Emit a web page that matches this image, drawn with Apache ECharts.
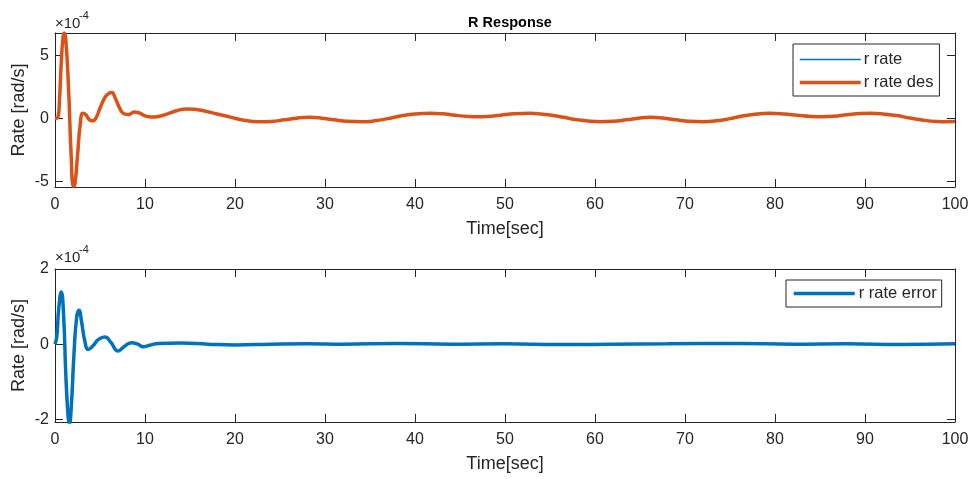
<!DOCTYPE html>
<html>
<head>
<meta charset="utf-8">
<script src="https://cdn.jsdelivr.net/npm/echarts@6/dist/echarts.min.js"></script>
<style>html,body{margin:0;padding:0;background:#fff}#c{width:973px;height:479px}</style>
</head>
<body>
<div id="c"></div>
<script>
// values are in units of 1e-4 rad/s
const timeDes = [0,0.3,0.5,0.7,0.9,1.05,1.2,1.5,1.8,2.05,2.2,2.5,2.8,3.1,3.4,3.8,4.2,4.6,5.0,5.5,6.0,6.3,6.7,7.2,7.7,8.2,8.8,9.3,10.0,10.7,11.5,12.5,13.5,14.6,15.5,16.5,18,19.5,21,22.6,24,25.5,27,28.3,29.5,31,32.5,34.2,35.5,37,38.5,40,41.7,43,44.5,46,46.9,48,49.5,51,52.8,54,55,56.5,58,59.5,60.6,62,63.5,65,66.1,67.5,69,70.5,72,73.5,75,76.5,78,79.4,81,82.5,84,85.3,86.5,88,89.5,90.6,92,93.5,95,96.5,98,99,100];
const rRateDes = [0,0.05,1.5,4.5,6.5,6.8,6.3,2.5,-3.0,-5.4,-5.3,-3.0,-0.5,0.4,0.3,-0.1,-0.2,0.1,0.8,1.6,2.0,2.05,1.6,0.8,0.35,0.3,0.5,0.45,0.2,0.1,0.15,0.35,0.6,0.75,0.72,0.6,0.35,0.1,-0.15,-0.27,-0.25,-0.12,0.03,0.08,0.03,-0.12,-0.24,-0.27,-0.2,-0.02,0.2,0.35,0.4,0.36,0.24,0.15,0.13,0.15,0.25,0.36,0.4,0.35,0.26,0.08,-0.12,-0.24,-0.27,-0.24,-0.12,0.03,0.08,0.03,-0.12,-0.24,-0.27,-0.2,-0.02,0.2,0.35,0.4,0.35,0.24,0.15,0.13,0.16,0.28,0.38,0.4,0.35,0.22,0.02,-0.15,-0.25,-0.27,-0.26];
const rRate = [0,0.04,1.3,4.0,6.3,6.8,6.5,3.0,-2.6,-5.3,-5.4,-3.3,-0.8,0.3,0.35,-0.05,-0.2,0.05,0.7,1.5,1.95,2.05,1.65,0.85,0.38,0.3,0.48,0.46,0.22,0.1,0.14,0.34,0.6,0.75,0.72,0.6,0.35,0.1,-0.15,-0.27,-0.25,-0.12,0.03,0.08,0.03,-0.12,-0.24,-0.27,-0.2,-0.02,0.2,0.35,0.4,0.36,0.24,0.15,0.13,0.15,0.25,0.36,0.4,0.35,0.26,0.08,-0.12,-0.24,-0.27,-0.24,-0.12,0.03,0.08,0.03,-0.12,-0.24,-0.27,-0.2,-0.02,0.2,0.35,0.4,0.35,0.24,0.15,0.13,0.16,0.28,0.38,0.4,0.35,0.22,0.02,-0.15,-0.25,-0.27,-0.26];
const timeErr = [0,0.2,0.4,0.7,0.95,1.2,1.45,1.6,1.8,2.1,2.4,2.67,2.95,3.3,3.7,4.2,4.8,5.55,6.2,7.0,7.6,8.5,9.2,9.8,10.5,11.5,14,17,20,24,28,32,38,44,50,56,62,68,76,82,88,94,100];
const rRateErr = [0,0.2,0.9,1.39,0.8,-0.8,-1.9,-2.12,-1.7,-0.3,0.7,0.9,0.6,0.1,-0.14,-0.05,0.12,0.19,0.05,-0.18,-0.08,0.04,0.0,-0.07,-0.03,0.02,0.03,0.0,-0.02,0.0,0.01,0.0,0.02,0.0,0.01,-0.01,0.0,0.01,0.02,0.0,0.01,-0.01,0.01];
const xTicks = [0,10,20,30,40,50,60,70,80,90,100];
const yTicksTop = [-5,0,5];
const yTicksBot = [-2,0,2];

const FONT = "'Liberation Sans', Arial, sans-serif";
const AX = '#262626';
const pair = (t, v) => t.map((x, i) => [x, v[i]]);

function xAx(grid, pos, show) {
  return {
    type: 'value', gridIndex: grid, position: pos, min: 0, max: 100, interval: 10,
    axisLine: {show: true, onZero: false, lineStyle: {color: AX, width: 1}},
    axisTick: {show: true, inside: true, length: 8, customValues: xTicks, lineStyle: {color: AX}},
    axisLabel: {show: show, color: AX, fontSize: 16, fontFamily: FONT, margin: 10, customValues: xTicks},
    splitLine: {show: false},
    name: show ? 'Time[sec]' : '', nameLocation: 'middle', nameGap: 33, nameMoveOverlap: false,
    nameTextStyle: {color: AX, fontSize: 18, fontFamily: FONT}
  };
}
function yAx(grid, pos, show, mn, mx, ticks) {
  return {
    type: 'value', gridIndex: grid, position: pos, min: mn, max: mx,
    axisLine: {show: true, onZero: false, lineStyle: {color: AX, width: 1}},
    axisTick: {show: true, inside: true, length: 8, customValues: ticks, lineStyle: {color: AX}},
    axisLabel: {show: show, color: AX, fontSize: 16, fontFamily: FONT, margin: 6, customValues: ticks},
    splitLine: {show: false},
    name: show ? 'Rate [rad/s]' : '', nameLocation: 'middle', nameGap: 27, nameMoveOverlap: false,
    nameTextStyle: {color: AX, fontSize: 18, fontFamily: FONT}
  };
}

const chart = echarts.init(document.getElementById('c'), null, {renderer: 'canvas'});
chart.setOption({
  animation: false,
  backgroundColor: '#fff',
  title: {text: 'R Response', left: 505, top: 10, textAlign: 'center',
    textStyle: {fontSize: 14.5, fontWeight: 'bold', color: '#000', fontFamily: FONT}},
  grid: [
    {left: 55, right: 18, top: 33, height: 154, outerBoundsMode: 'none', containLabel: false},
    {left: 55, right: 18, top: 269, height: 153, outerBoundsMode: 'none', containLabel: false}
  ],
  xAxis: [xAx(0, 'bottom', true), xAx(0, 'top', false), xAx(1, 'bottom', true), xAx(1, 'top', false)],
  yAxis: [yAx(0, 'left', true, -5.47, 6.8, yTicksTop), yAx(0, 'right', false, -5.47, 6.8, yTicksTop),
          yAx(1, 'left', true, -2.07, 2, yTicksBot), yAx(1, 'right', false, -2.07, 2, yTicksBot)],
  legend: [
    {data: [{name: 'r rate', lineStyle: {width: 1.5, color: '#0072BD'}},
            {name: 'r rate des', lineStyle: {width: 3.5, color: '#D95319'}}],
     orient: 'vertical', left: 793, top: 44,
     padding: [7, 6, 5, 5], itemGap: 6, itemWidth: 61, itemHeight: 16,
     borderColor: AX, borderWidth: 1, backgroundColor: '#fff',
     itemStyle: {opacity: 0},
     textStyle: {color: AX, fontSize: 16.5, lineHeight: 16, fontFamily: FONT, padding: [0, 0, 0, -2]}},
    {data: [{name: 'r rate error', lineStyle: {width: 3.5, color: '#0072BD'}}],
     orient: 'vertical', left: 786, top: 280,
     padding: [5, 5, 5, 6], itemWidth: 61, itemHeight: 16,
     borderColor: AX, borderWidth: 1, backgroundColor: '#fff',
     itemStyle: {opacity: 0},
     textStyle: {color: AX, fontSize: 16.5, lineHeight: 16, fontFamily: FONT, padding: [0, 0, 0, -1]}}
  ],
  graphic: [
    {type: 'text', left: 55, top: 16, style: {text: '×10', fontSize: 15, fontFamily: FONT, fill: AX}},
    {type: 'text', left: 79, top: 10, style: {text: '-4', fontSize: 11, fontFamily: FONT, fill: AX}},
    {type: 'text', left: 55, top: 250, style: {text: '×10', fontSize: 15, fontFamily: FONT, fill: AX}},
    {type: 'text', left: 79, top: 244, style: {text: '-4', fontSize: 11, fontFamily: FONT, fill: AX}}
  ],
  series: [
    {name: 'r rate', type: 'line', xAxisIndex: 0, yAxisIndex: 0, data: pair(timeDes, rRate),
     symbol: 'none', smooth: 0.5, lineStyle: {color: '#0072BD', width: 1}, itemStyle: {color: '#0072BD'}},
    {name: 'r rate des', type: 'line', xAxisIndex: 0, yAxisIndex: 0, data: pair(timeDes, rRateDes),
     symbol: 'none', smooth: 0.5, lineStyle: {color: '#D95319', width: 3.5}, itemStyle: {color: '#D95319'}},
    {name: 'r rate error', type: 'line', xAxisIndex: 2, yAxisIndex: 2, data: pair(timeErr, rRateErr),
     symbol: 'none', smooth: 0.5, lineStyle: {color: '#0072BD', width: 3.5}, itemStyle: {color: '#0072BD'}}
  ]
});
</script>
</body>
</html>
